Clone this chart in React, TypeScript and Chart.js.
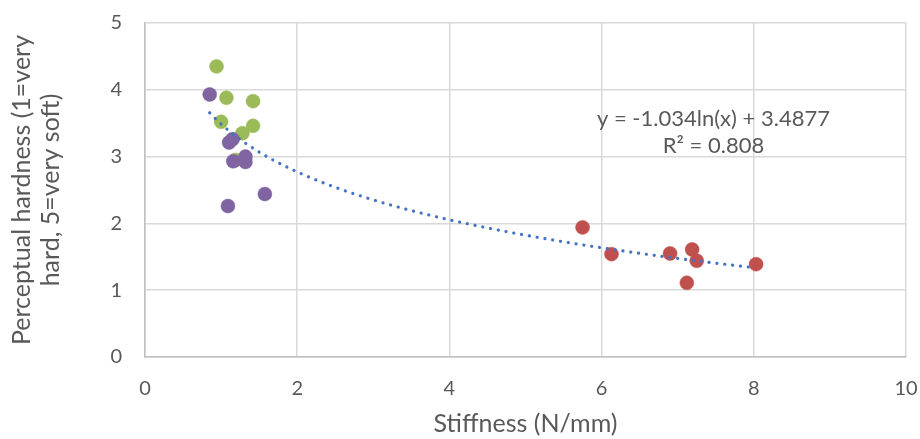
import React, { useEffect, useRef } from "react";
import { Chart, registerables } from "chart.js";

Chart.register(...registerables);

const greenX = [0.94, 1.07, 1.42, 1.0, 1.42, 1.28, 1.19];
const greenY = [4.35, 3.88, 3.83, 3.52, 3.46, 3.35, 2.95];
const purpleX = [0.85, 1.105, 1.15, 1.16, 1.32, 1.32, 1.575, 1.09];
const purpleY = [3.93, 3.21, 3.26, 2.93, 3.0, 2.92, 2.44, 2.26];
const redX = [5.75, 6.13, 6.9, 7.19, 7.25, 7.12, 8.03];
const redY = [1.94, 1.54, 1.55, 1.61, 1.44, 1.11, 1.39];

const trendA = -1.034;
const trendB = 3.4877;
const trendLabel = ["y = -1.034ln(x) + 3.4877", "R\u00b2 = 0.808"];
const xTicks = [0, 2, 4, 6, 8, 10];
const yTicks = [0, 1, 2, 3, 4, 5];

const FONT = "Lato";
const TXT = "#595959";

function zip(xs: number[], ys: number[]) {
  return xs.map((x, i) => ({ x, y: ys[i] }));
}

export default function App() {
  const ref = useRef<HTMLCanvasElement>(null);
  useEffect(() => {
    document.body.style.margin = "0";
    const all = [...greenX, ...purpleX, ...redX];
    const xmin = Math.min(...all);
    const xmax = Math.max(...all);
    const trend: { x: number; y: number }[] = [];
    const n = 200;
    for (let i = 0; i <= n; i++) {
      const x = xmin + ((xmax - xmin) * i) / n;
      trend.push({ x, y: trendA * Math.log(x) + trendB });
    }
    const labelPlugin = {
      id: "trendLabel",
      afterDatasetsDraw(chart: any) {
        const { ctx, scales } = chart;
        const px = scales.x.getPixelForValue(7.47);
        const py = scales.y.getPixelForValue(3.56);
        ctx.save();
        ctx.fillStyle = TXT;
        ctx.font = `22px ${FONT}`;
        ctx.textAlign = "center";
        ctx.textBaseline = "middle";
        ctx.fillText(trendLabel[0], px, py);
        ctx.fillText(trendLabel[1], px, py + 27);
        ctx.restore();
      },
    };
    const chart = new Chart(ref.current!, {
      type: "scatter",
      data: {
        datasets: [
          {
            label: "trend",
            type: "line",
            data: trend,
            borderColor: "#4472C4",
            borderWidth: 3.2,
            borderDash: [0.1, 7.8],
            borderCapStyle: "round",
            pointRadius: 0,
            fill: false,
            order: 0,
          } as any,
          {
            label: "purple",
            data: zip(purpleX, purpleY),
            backgroundColor: "#8064A2",
            borderColor: "#8064A2",
            pointRadius: 7,
            borderWidth: 0.5,
            order: 1,
          },
          {
            label: "green",
            data: zip(greenX, greenY),
            backgroundColor: "#9BBB59",
            borderColor: "#9BBB59",
            pointRadius: 7,
            borderWidth: 0.5,
            order: 2,
          },
          {
            label: "red",
            data: zip(redX, redY),
            backgroundColor: "#C0504D",
            borderColor: "#C0504D",
            pointRadius: 7,
            borderWidth: 0.5,
            order: 3,
          },
        ],
      },
      options: {
        animation: false,
        responsive: false,
        layout: { padding: { top: 23, right: 14, left: 0, bottom: 0 } },
        plugins: { legend: { display: false }, tooltip: { enabled: false } },
        scales: {
          x: {
            type: "linear",
            min: 0,
            max: 10,
            afterBuildTicks: (axis: any) => {
              axis.ticks = xTicks.map((v) => ({ value: v }));
            },
            afterFit: (axis: any) => {
              axis.height = 82;
              axis.paddingLeft = 0;
              axis.paddingRight = 0;
            },
            grid: { color: "#D9D9D9", lineWidth: 1.5, drawTicks: false },
            border: { display: true, color: "#BFBFBF", width: 1.5 },
            ticks: { color: TXT, font: { family: FONT, size: 20, lineHeight: 1.2 }, padding: 20 },
            title: {
              display: true,
              text: "Stiffness (N/mm)",
              color: TXT,
              font: { family: FONT, size: 25, lineHeight: 1.2 },
              padding: { top: 0, bottom: 0 },
            },
          },
          y: {
            type: "linear",
            min: 0,
            max: 5,
            afterBuildTicks: (axis: any) => {
              axis.ticks = yTicks.map((v) => ({ value: v }));
            },
            afterFit: (axis: any) => {
              axis.width = 145;
              axis.paddingTop = 0;
              axis.paddingBottom = 0;
            },
            grid: { color: "#D9D9D9", lineWidth: 1.5, drawTicks: false },
            border: { display: true, color: "#BFBFBF", width: 1.5 },
            ticks: { color: TXT, font: { family: FONT, size: 20, lineHeight: 1.2 }, padding: 23 },
            title: {
              display: true,
              text: ["Perceptual hardness (1=very", "hard, 5=very soft)"],
              color: TXT,
              font: { family: FONT, size: 25, lineHeight: 1.15 },
              padding: { top: 8, bottom: 0 },
            },
          },
        },
      },
      plugins: [labelPlugin],
    });
    return () => chart.destroy();
  }, []);
  return <canvas ref={ref} width={920} height={439} style={{ display: "block" }} />;
}
